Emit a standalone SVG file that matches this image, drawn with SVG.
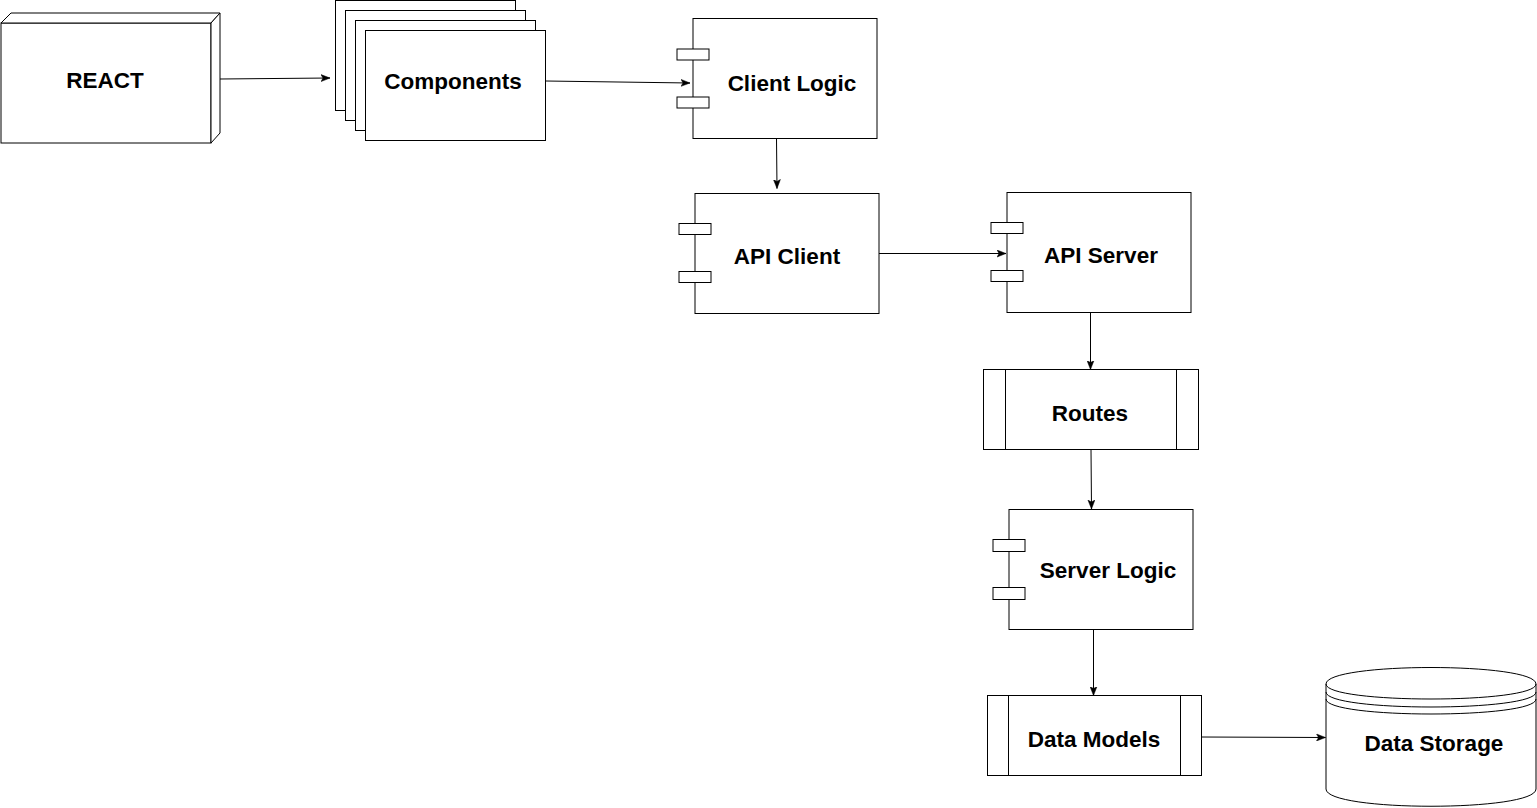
<svg xmlns="http://www.w3.org/2000/svg" width="1537" height="808" viewBox="0 0 1537 808">
<style>
.s{fill:#fff;stroke:#000;stroke-width:1}
.t{font-family:"Liberation Sans",Arial,sans-serif;font-weight:bold;font-size:22.5px;fill:#000;text-anchor:middle}
.c{fill:none;stroke:#000;stroke-width:1}
</style>
<defs>
<marker id="a" viewBox="0 0 10 8" refX="9" refY="4" markerWidth="10" markerHeight="8" markerUnits="userSpaceOnUse" orient="auto">
<path d="M0,0.5 L9,4 L0,7.5 L2,4 Z" fill="#000" stroke="#000" stroke-width="0.5"/>
</marker>
</defs>
<rect width="1537" height="808" fill="#fff"/>
<g id="react">
<rect class="s" x="1" y="23" width="210" height="120"/>
<path class="s" d="M1,23 L11,13 L220,13 L211,23 Z"/>
<path class="s" d="M211,23 L220,13 L220,133 L211,143 Z"/>
<text class="t" x="105" y="88">REACT</text>
</g>
<g id="components">
<rect class="s" x="335.5" y="0.5" width="180" height="110"/>
<rect class="s" x="345.5" y="10.5" width="180" height="110"/>
<rect class="s" x="355.5" y="20.5" width="180" height="110"/>
<rect class="s" x="365.5" y="30.5" width="180" height="110"/>
<text class="t" x="453" y="89">Components</text>
</g>
<g id="client-logic">
<rect class="s" x="693" y="18.5" width="184" height="120"/>
<rect class="s" x="677" y="49" width="32" height="11"/>
<rect class="s" x="677" y="97" width="32" height="11"/>
<text class="t" x="792" y="91">Client Logic</text>
</g>
<g id="api-client">
<rect class="s" x="695" y="193.5" width="184" height="120"/>
<rect class="s" x="679" y="223.5" width="32" height="11"/>
<rect class="s" x="679" y="271.5" width="32" height="11"/>
<text class="t" x="787" y="264">API Client</text>
</g>
<g id="api-server">
<rect class="s" x="1007" y="192.5" width="184" height="120"/>
<rect class="s" x="991" y="222.5" width="32" height="11"/>
<rect class="s" x="991" y="270.5" width="32" height="11"/>
<text class="t" x="1101" y="263">API Server</text>
</g>
<g id="routes">
<rect class="s" x="983.5" y="369.5" width="215" height="80"/>
<line class="c" x1="1005.5" y1="369.5" x2="1005.5" y2="449.5"/>
<line class="c" x1="1176.5" y1="369.5" x2="1176.5" y2="449.5"/>
<text class="t" x="1090" y="421">Routes</text>
</g>
<g id="server-logic">
<rect class="s" x="1009" y="509.5" width="184" height="120"/>
<rect class="s" x="993" y="539.5" width="32" height="12"/>
<rect class="s" x="993" y="587.5" width="32" height="12"/>
<text class="t" x="1108" y="578">Server Logic</text>
</g>
<g id="data-models">
<rect class="s" x="987.5" y="695.5" width="214" height="80"/>
<line class="c" x1="1008.5" y1="695.5" x2="1008.5" y2="775.5"/>
<line class="c" x1="1180.5" y1="695.5" x2="1180.5" y2="775.5"/>
<text class="t" x="1094" y="747">Data Models</text>
</g>
<g id="data-storage">
<path class="s" d="M1326,684 C1326,662 1536,662 1536,684 L1536,789 C1536,812 1326,812 1326,789 Z"/>
<path class="c" d="M1326,684 C1326,704 1536,704 1536,684"/>
<path class="c" d="M1326,692 C1326,712 1536,712 1536,692"/>
<path class="c" d="M1326,699 C1326,719 1536,719 1536,699"/>
<text class="t" x="1434" y="751">Data Storage</text>
</g>
<g id="connectors">
<path class="c" d="M220,79 L330,78" marker-end="url(#a)"/>
<path class="c" d="M546,81 L690,83" marker-end="url(#a)"/>
<path class="c" d="M776.5,138.5 L777,188.5" marker-end="url(#a)"/>
<path class="c" d="M879,253.5 L1006,253.5" marker-end="url(#a)"/>
<path class="c" d="M1090.5,312.5 L1090.5,369.5" marker-end="url(#a)"/>
<path class="c" d="M1091,449.5 L1091.5,509" marker-end="url(#a)"/>
<path class="c" d="M1093.5,629.5 L1093.5,695.5" marker-end="url(#a)"/>
<path class="c" d="M1201.5,737 L1325.5,737.5" marker-end="url(#a)"/>
</g>
</svg>
